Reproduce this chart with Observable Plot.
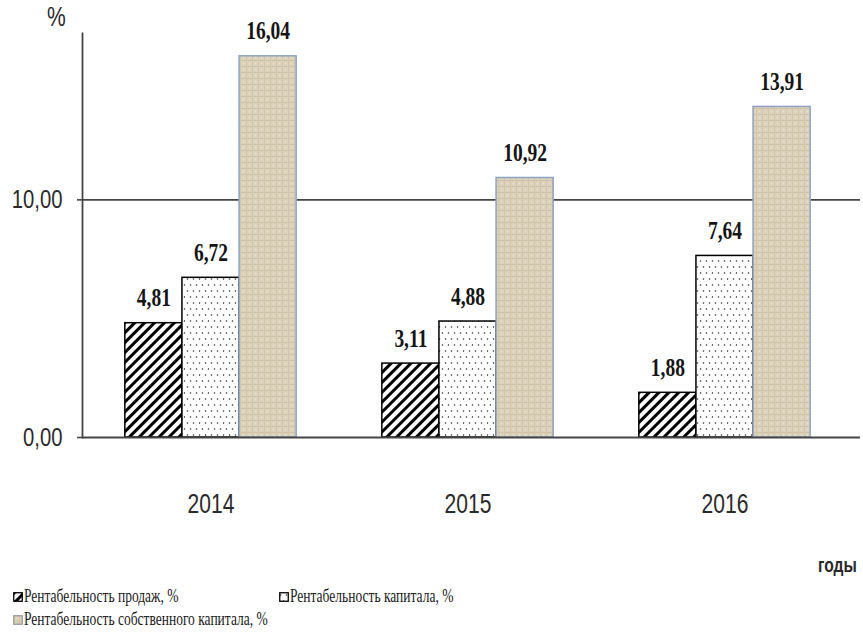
<!DOCTYPE html>
<html><head><meta charset="utf-8">
<script src="https://cdn.jsdelivr.net/npm/d3@7"></script>
<script src="https://cdn.jsdelivr.net/npm/@observablehq/plot@0.6"></script>
<style>
body{margin:0;background:#fff;}
#wrap{position:relative;width:863px;height:632px;overflow:hidden;background:#fff;}
.abs{position:absolute;white-space:nowrap;}
.sx{display:inline-block;transform:scaleX(0.78);transform-origin:0 50%;white-space:nowrap;}
.leg{position:absolute;display:flex;align-items:center;color:#1a1a1a;}
.leg .sx{font-family:"Liberation Serif","Times New Roman",serif;font-size:18px;transform:scaleX(0.75);}
.leg svg{margin-right:1px;}
</style></head><body><div id="wrap"></div>
<script>
const years = ["2014", "2015", "2016"];
const series = ["Рентабельность продаж, %", "Рентабельность капитала, %", "Рентабельность собственного капитала, %"];
const salesProfitability = [4.81, 3.11, 1.88];
const capitalProfitability = [6.72, 4.88, 7.64];
const equityProfitability = [16.04, 10.92, 13.91];
const yTicks = [0, 10];
const xTitle = "годы";
const yTitle = "%";

const seriesValues = [salesProfitability, capitalProfitability, equityProfitability];
const fills = ["url(#pHatch)", "url(#pDots)", "url(#pBeige)"];
const strokes = ["#000", "#000", "#8fa3c4"];
// group occupies 2/3 of each year's slot; each series takes a third of the group
const groupWidth = 2 / 3;
const barW = groupWidth / series.length;
const data = [];
years.forEach((y, i) => series.forEach((s, j) => data.push({
  year: y, series: s, si: j, value: seriesValues[j][i],
  x1: i - groupWidth / 2 + j * barW, x2: i - groupWidth / 2 + (j + 1) * barW
})));
const fmt = d => d.toFixed(2).replace(".", ",");
const SANS = "'Liberation Sans', Arial, sans-serif";
const SERIF = "'Liberation Serif', 'Times New Roman', serif";

const svg = Plot.plot({
  width: 863, height: 580,
  marginTop: 33, marginBottom: 143, marginLeft: 82, marginRight: 3,
  style: {background: "white", color: "#2a2a2a", fontFamily: SANS},
  x: {domain: [-0.5, years.length - 0.5], range: [82, 853], axis: null},
  y: {domain: [0, 17], axis: null},
  marks: [
    Plot.ruleY([10], {stroke: "#444", strokeWidth: 1.6}),
    ...series.map((s, j) => Plot.rectY(data.filter(d => d.si === j), {
      x1: "x1", x2: "x2", y1: 0, y2: "value", fill: fills[j], stroke: strokes[j], strokeWidth: 1.5
    })),
    Plot.text(data, {x: d => (d.x1 + d.x2) / 2, y: "value", text: d => fmt(d.value), dy: -25,
      fontFamily: SERIF, fontWeight: "bold", fontSize: 25, fill: "#151515"}),
    Plot.axisX({ticks: years.map((_, i) => i), tickFormat: i => years[i], tickSize: 0, tickPadding: 56, fontSize: 27, label: null}),
    Plot.axisY({ticks: yTicks, tickFormat: fmt, tickSize: 5, tickPadding: 15, fontSize: 26, label: null, stroke: "#444", strokeWidth: 1.6}),
    Plot.frame({anchor: "left", stroke: "#444", strokeWidth: 1.8}),
    Plot.ruleY([0], {stroke: "#444", strokeWidth: 1.8})
  ]
});

svg.insertAdjacentHTML("afterbegin", `<defs>
<pattern id="pHatch" patternUnits="userSpaceOnUse" width="7" height="7" patternTransform="rotate(45)">
 <rect width="7" height="7" fill="#fff"/><rect x="0" y="0" width="3" height="7" fill="#000"/>
</pattern>
<pattern id="pDots" patternUnits="userSpaceOnUse" width="6" height="12">
 <rect width="6" height="12" fill="#fff"/><circle cx="1.5" cy="3" r="0.75" fill="#222"/><circle cx="4.5" cy="9" r="0.75" fill="#222"/>
</pattern>
<pattern id="pBeige" patternUnits="userSpaceOnUse" width="6" height="6">
 <rect width="6" height="6" fill="#ddd3bd"/><rect width="6" height="1" fill="#cec2a8"/><rect width="1" height="6" fill="#d1c5ac"/><rect x="3" y="3" width="1" height="1" fill="#ebe4d6"/>
</pattern>
</defs>`);

const K = 0.78;
svg.querySelectorAll("text").forEach(t => {
  const x = t.getAttribute("x");
  if (x != null && !isNaN(+x)) t.setAttribute("x", +x / K);
  const tr = t.getAttribute("transform") || "";
  t.setAttribute("transform", (tr + ` scale(${K},1)`).trim());
});

const wrap = document.getElementById("wrap");
wrap.appendChild(svg);

function addAbs(text, css, font) {
  const d = document.createElement("div");
  d.className = "abs";
  d.style.cssText += css;
  const s = document.createElement("span");
  s.className = "sx";
  s.textContent = text;
  s.style.font = font;
  d.appendChild(s);
  wrap.appendChild(d);
  return s;
}
addAbs(yTitle, "left:47px;top:2px;", `27px ${SANS}`).style.color = "#2a2a2a";
const gt = addAbs(xTitle, "right:6px;top:554px;", `bold 20px ${SANS}`);
gt.style.transformOrigin = "100% 50%";
gt.style.color = "#2a2a2a";

const legendPos = [[13, 586], [279, 586], [13, 609]];
series.forEach((s, j) => {
  const d = document.createElement("div");
  d.className = "leg";
  d.style.left = legendPos[j][0] + "px";
  d.style.top = legendPos[j][1] + "px";
  d.innerHTML = `<svg width="10" height="10"><rect x="0.75" y="0.75" width="8.5" height="8.5" fill="${fills[j]}" stroke="${j === 2 ? '#9a9a9a' : '#000'}" stroke-width="1.3"/></svg>`;
  const sp = document.createElement("span");
  sp.className = "sx";
  sp.textContent = s;
  d.appendChild(sp);
  wrap.appendChild(d);
});
</script></body></html>
